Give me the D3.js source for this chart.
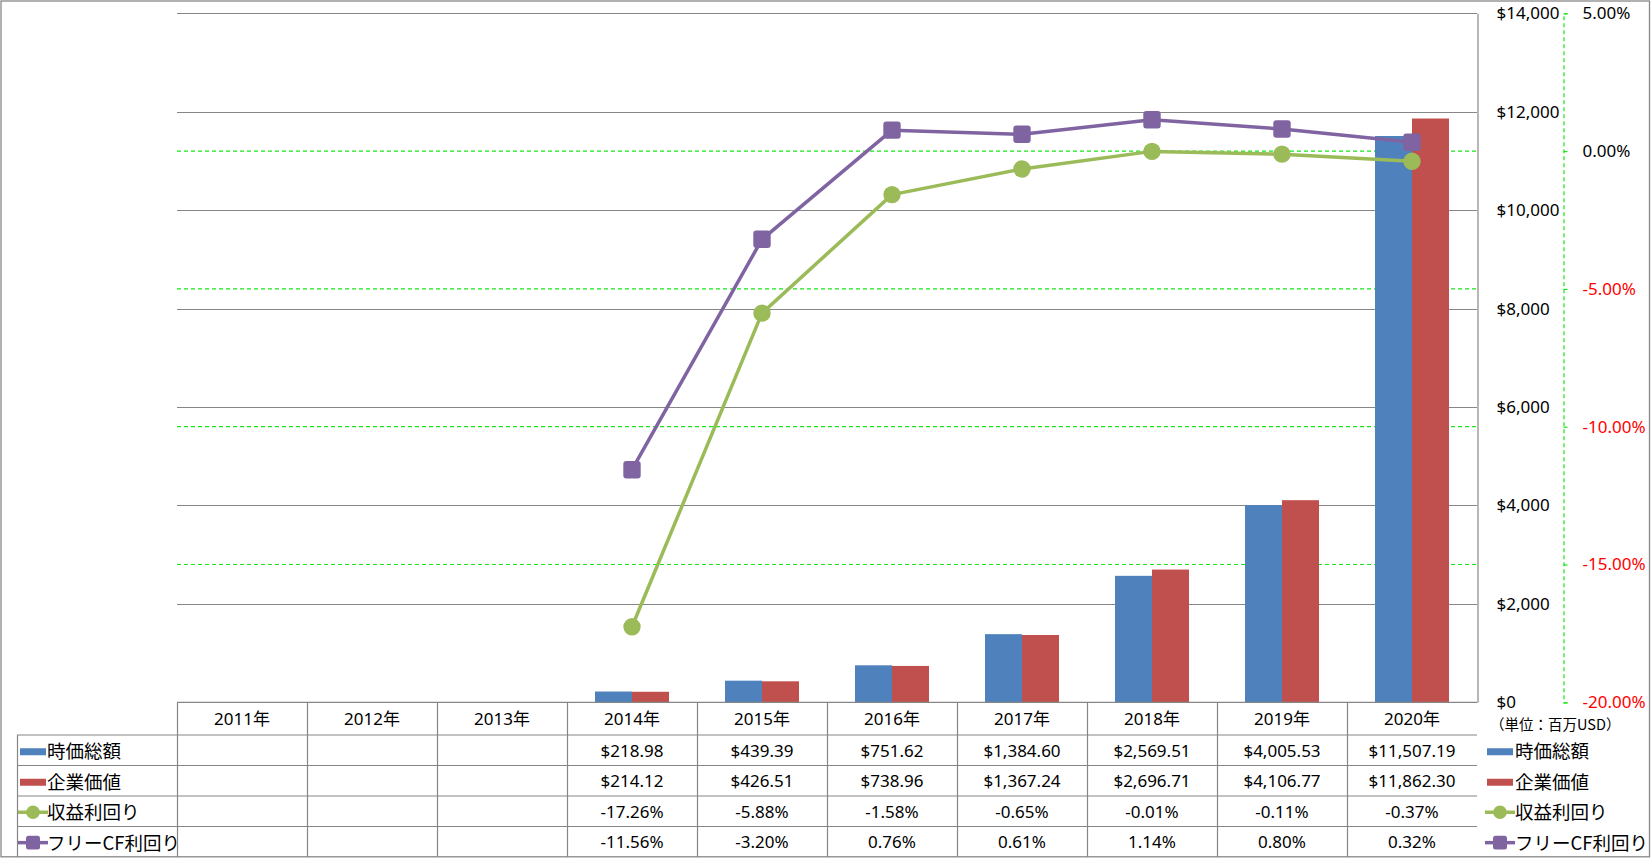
<!DOCTYPE html>
<html>
<head>
<meta charset="utf-8">
<script src="https://cdn.jsdelivr.net/npm/d3@7/dist/d3.min.js"></script>
<style>
  html, body { margin: 0; padding: 0; background: #fff; }
  svg { display: block; }
  text { font-family: "Noto Sans", "Noto Sans CJK JP", sans-serif; }
  .jp { font-family: "Noto Sans CJK JP", sans-serif; }
</style>
</head>
<body>
<svg id="chart" width="1651" height="858"></svg>
<script>
// ---------- data ----------
const categories = ["2011年","2012年","2013年","2014年","2015年","2016年","2017年","2018年","2019年","2020年"];
const marketCap = [null, null, null, 218.98, 439.39, 751.62, 1384.60, 2569.51, 4005.53, 11507.19];
const enterpriseValue = [null, null, null, 214.12, 426.51, 738.96, 1367.24, 2696.71, 4106.77, 11862.30];
const earningsYield = [null, null, null, -17.26, -5.88, -1.58, -0.65, -0.01, -0.11, -0.37];
const fcfYield = [null, null, null, -11.56, -3.20, 0.76, 0.61, 1.14, 0.80, 0.32];
const seriesNames = ["時価総額", "企業価値", "収益利回り", "フリーCF利回り"];
const leftTicks = [0, 2000, 4000, 6000, 8000, 10000, 12000, 14000];
const rightTicks = [-20, -15, -10, -5, 0, 5];
const unitLabel = "（単位：百万USD）";

// ---------- setup ----------
const colors = { blue: "#4F81BD", red: "#C0504D", green: "#9BBB59", purple: "#8064A2", grid: "#868686", dash: "#19E619" };
const loc = d3.formatLocale({ decimal: ".", thousands: ",", grouping: [3], currency: ["$", ""], minus: "-" });
const fmtDollarAxis = d => "$" + loc.format(",")(d);
const fmtDollar = d => "$" + loc.format(",.2f")(d);
const fmtPct = d => loc.format(".2f")(d) + "%";

const svg = d3.select("#chart");
const plotL = 177, plotR = 1477, plotT = 13.3, plotB = 702.3;
const tableRows = [702.3, 735, 765.5, 796, 826.5, 856.8];
const legendColL = 17;

const x = d3.scaleBand().domain(categories).range([plotL, plotR]).padding(0);
const xs = d3.scaleBand().domain(["mc", "ev"]).range([28, 102]);
const yL = d3.scaleLinear().domain([0, 14000]).range([plotB, plotT]);
const yR = d3.scaleLinear().domain([-20, 5]).range([plotB, plotT]);

// outer border
svg.append("rect").attr("x", 1).attr("y", 1).attr("width", 1648.5).attr("height", 855.8)
  .attr("fill", "#fff").attr("stroke", "#888").attr("stroke-width", 1.3);

// green dashed gridlines (secondary axis), interior only
const [rMin, rMax] = yR.domain();
svg.append("g").selectAll("line").data(rightTicks.filter(d => d > rMin && d < rMax)).join("line")
  .attr("x1", plotL).attr("x2", plotR)
  .attr("y1", d => yR(d)).attr("y2", d => yR(d))
  .attr("stroke", colors.dash).attr("stroke-width", 1.2).attr("stroke-dasharray", "4,3");

// gray gridlines (primary axis)
svg.append("g").selectAll("line").data(leftTicks.filter(d => d > 0)).join("line")
  .attr("x1", plotL).attr("x2", plotR)
  .attr("y1", d => Math.round(yL(d)) + 0.5).attr("y2", d => Math.round(yL(d)) + 0.5)
  .attr("stroke", colors.grid).attr("stroke-width", 1.2);

// bars
const barData = [];
categories.forEach((c, i) => {
  if (marketCap[i] != null) barData.push({ c, k: "mc", v: marketCap[i], col: colors.blue });
  if (enterpriseValue[i] != null) barData.push({ c, k: "ev", v: enterpriseValue[i], col: colors.red });
});
svg.append("g").selectAll("rect").data(barData).join("rect")
  .attr("x", d => x(d.c) + xs(d.k)).attr("width", xs.bandwidth())
  .attr("y", d => yL(d.v)).attr("height", d => plotB - yL(d.v))
  .attr("fill", d => d.col);

// primary axis (labels on the right side)
const axL = svg.append("g").attr("transform", `translate(${plotR + 0.5},0)`)
  .call(d3.axisRight(yL).tickValues(leftTicks).tickSize(0).tickPadding(19).tickFormat(fmtDollarAxis));
axL.select(".domain").attr("stroke", colors.grid).attr("stroke-width", 1.2);
axL.selectAll("text").attr("font-size", 17).style("font-family", "'Noto Sans', sans-serif").style("fill", "#000");

// secondary axis
const axR = svg.append("g").attr("transform", `translate(1563.5,0)`)
  .call(d3.axisRight(yR).tickValues(rightTicks).tickSizeInner(4).tickSizeOuter(4).tickPadding(15).tickFormat(d => fmtPct(d)));
axR.select(".domain").attr("stroke", colors.dash).attr("stroke-width", 1.2).attr("stroke-dasharray", "4,3");
axR.selectAll(".tick line").attr("stroke", colors.dash).attr("stroke-width", 1.2);
axR.selectAll("text").attr("font-size", 17).style("font-family", "'Noto Sans', sans-serif")
  .style("fill", d => d < 0 ? "#FF0000" : "#000");

// lines
const lineGen = d3.line().defined(d => d.v != null).x(d => x(d.c) + x.bandwidth() / 2).y(d => yR(d.v));
const eyPts = categories.map((c, i) => ({ c, v: earningsYield[i] }));
const fcfPts = categories.map((c, i) => ({ c, v: fcfYield[i] }));

svg.append("path").datum(fcfPts).attr("d", lineGen).attr("fill", "none")
  .attr("stroke", colors.purple).attr("stroke-width", 3.5).attr("stroke-linejoin", "round");
svg.append("path").datum(eyPts).attr("d", lineGen).attr("fill", "none")
  .attr("stroke", colors.green).attr("stroke-width", 3.5).attr("stroke-linejoin", "round");

svg.append("g").selectAll("rect").data(fcfPts.filter(d => d.v != null)).join("rect")
  .attr("x", d => x(d.c) + x.bandwidth() / 2 - 8.7).attr("y", d => yR(d.v) - 8.7)
  .attr("width", 17.4).attr("height", 17.4).attr("rx", 3)
  .attr("fill", colors.purple);
svg.append("g").selectAll("circle").data(eyPts.filter(d => d.v != null)).join("circle")
  .attr("cx", d => x(d.c) + x.bandwidth() / 2).attr("cy", d => yR(d.v)).attr("r", 8.7)
  .attr("fill", colors.green);

// ---------- data table ----------
const tg = svg.append("g");
tg.append("line").attr("x1", plotL).attr("x2", plotR).attr("y1", plotB).attr("y2", plotB)
  .attr("stroke", colors.grid).attr("stroke-width", 1.2);
tableRows.slice(1, 5).forEach(yv => {
  tg.append("line").attr("x1", legendColL).attr("x2", plotR).attr("y1", yv).attr("y2", yv)
    .attr("stroke", colors.grid).attr("stroke-width", 1.2);
});
tg.selectAll("line.v").data(categories).join("line").attr("class", "v")
  .attr("x1", d => Math.round(x(d)) + 0.5).attr("x2", d => Math.round(x(d)) + 0.5)
  .attr("y1", plotB).attr("y2", tableRows[5])
  .attr("stroke", colors.grid).attr("stroke-width", 1.2);
tg.append("line").attr("x1", legendColL + 0.5).attr("x2", legendColL + 0.5).attr("y1", tableRows[1]).attr("y2", tableRows[5])
  .attr("stroke", colors.grid).attr("stroke-width", 1.2);

const rowMid = i => (tableRows[i] + tableRows[i + 1]) / 2;
tg.selectAll("text.h").data(categories).join("text").attr("class", "h")
  .attr("x", d => x(d) + x.bandwidth() / 2).attr("y", rowMid(0))
  .attr("text-anchor", "middle").attr("dominant-baseline", "central").attr("font-size", 17)
  .style("fill", "#000").text(d => d);

const rowsData = [
  marketCap.map(v => v == null ? "" : fmtDollar(v)),
  enterpriseValue.map(v => v == null ? "" : fmtDollar(v)),
  earningsYield.map(v => v == null ? "" : fmtPct(v)),
  fcfYield.map(v => v == null ? "" : fmtPct(v))
];
rowsData.forEach((row, ri) => {
  tg.selectAll("text.r" + ri).data(row).join("text").attr("class", "r" + ri)
    .attr("x", (d, i) => x(categories[i]) + x.bandwidth() / 2).attr("y", rowMid(ri + 1))
    .attr("text-anchor", "middle").attr("dominant-baseline", "central").attr("font-size", 17)
    .style("fill", "#000").text(d => d);
});

function legendKey(g, idx, kx, cy) {
  if (idx < 2) {
    g.append("rect").attr("x", kx).attr("y", cy - 3).attr("width", 26).attr("height", 7)
      .attr("fill", idx === 0 ? colors.blue : colors.red);
  } else {
    const col = idx === 2 ? colors.green : colors.purple;
    g.append("line").attr("x1", kx - 2).attr("x2", kx + 28).attr("y1", cy).attr("y2", cy)
      .attr("stroke", col).attr("stroke-width", 3.5);
    if (idx === 2) g.append("circle").attr("cx", kx + 13).attr("cy", cy).attr("r", 6.8).attr("fill", col);
    else g.append("rect").attr("x", kx + 6).attr("y", cy - 6.8).attr("width", 14).attr("height", 13.6).attr("rx", 2.5).attr("fill", col);
  }
}
seriesNames.forEach((name, i) => {
  const cy = rowMid(i + 1);
  legendKey(tg, i, 20, cy + 1);
  tg.append("text").attr("class", "jp").attr("x", 47).attr("y", cy).attr("dominant-baseline", "central")
    .attr("font-size", 18.5).style("fill", "#000").text(name);
  legendKey(tg, i, 1487, cy + 1);
  tg.append("text").attr("class", "jp").attr("x", 1515).attr("y", cy).attr("dominant-baseline", "central")
    .attr("font-size", 18.5).style("fill", "#000").text(name);
});

svg.append("text").attr("class", "jp").attr("x", 1490).attr("y", 723).attr("dominant-baseline", "central")
  .attr("font-size", 14.5).style("fill", "#000").text(unitLabel);
</script>
</body>
</html>
